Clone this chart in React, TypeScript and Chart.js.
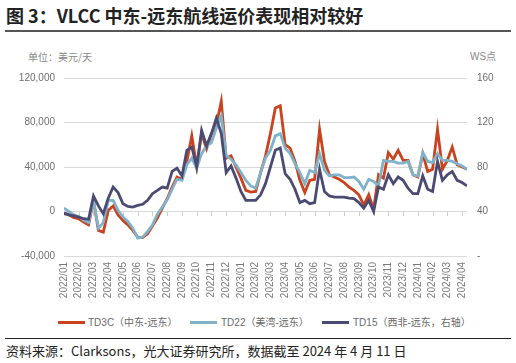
import React, { useEffect, useRef } from "react";
import { Chart, registerables } from "chart.js";

Chart.register(...registerables);

// Sample dates (1st, 11th, 21st of each month)
const dates = [
  "2022-01-01","2022-01-11","2022-01-21","2022-02-01","2022-02-11","2022-02-21",
  "2022-03-01","2022-03-11","2022-03-21","2022-04-01","2022-04-11","2022-04-21",
  "2022-05-01","2022-05-11","2022-05-21","2022-06-01","2022-06-11","2022-06-21",
  "2022-07-01","2022-07-11","2022-07-21","2022-08-01","2022-08-11","2022-08-21",
  "2022-09-01","2022-09-11","2022-09-21","2022-10-01","2022-10-11","2022-10-21",
  "2022-11-01","2022-11-11","2022-11-21","2022-12-01","2022-12-11","2022-12-21",
  "2023-01-01","2023-01-11","2023-01-21","2023-02-01","2023-02-11","2023-02-21",
  "2023-03-01","2023-03-11","2023-03-21","2023-04-01","2023-04-11","2023-04-21",
  "2023-05-01","2023-05-11","2023-05-21","2023-06-01","2023-06-11","2023-06-21",
  "2023-07-01","2023-07-11","2023-07-21","2023-08-01","2023-08-11","2023-08-21",
  "2023-09-01","2023-09-11","2023-09-21","2023-10-01","2023-10-11","2023-10-21",
  "2023-11-01","2023-11-11","2023-11-21","2023-12-01","2023-12-11","2023-12-21",
  "2024-01-01","2024-01-11","2024-01-21","2024-02-01","2024-02-11","2024-02-21",
  "2024-03-01","2024-03-11","2024-03-21","2024-04-01","2024-04-11",
];

// TD3C (中东-远东), USD/day, left axis
const td3c = [
  -1500, -3000, -5500, -6500, -9500, -12000,
  10000, -17000, -18500, 1000, 5000, -3000,
  -8000, -12000, -17000, -23000, -23500, -20000,
  -13000, -5800, 3000, 11500, 22000, 31000,
  29000, 45000, 68000, 40500, 70000, 56400,
  70000, 78000, 99000, 48000, 50000, 40000,
  30000, 19000, 17500, 18000, 35000, 50000,
  70000, 93000, 95000, 60000, 57000, 45000,
  28000, 17000, 28000, 29000, 74000, 45000,
  33000, 31000, 29000, 26000, 22000, 19000,
  15000, 5800, 15000, 2000, 33000, 30000,
  53000, 47000, 55000, 46000, 46000, 33000,
  31000, 52000, 36000, 38000, 74000, 38000,
  46000, 58000, 42000, 40000, 38000,
];

// TD22 (美湾-远东), USD/day, left axis
const td22 = [
  3000, 0, -3000, -4500, -8000, -10000,
  10000, -15000, -10000, 10000, 10000, 1000,
  -5000, -9000, -15000, -24000, -23000, -18000,
  -12000, -2500, 4000, 10500, 20000, 29000,
  28000, 42000, 48000, 39000, 52000, 59000,
  62000, 75000, 86000, 50000, 47000, 42000,
  35000, 28000, 23000, 21000, 35000, 48000,
  55000, 68000, 70000, 57000, 52000, 43000,
  35000, 25000, 37000, 35000, 52000, 37000,
  32000, 33000, 33000, 30500, 30500, 31000,
  27000, 20000, 29000, 27000, 23000, 46000,
  45000, 45000, 43500, 43500, 45000, 33000,
  31800, 53000, 45000, 44000, 52000, 46000,
  46000, 45000, 43000, 41000, 38000,
];

// TD15 (西非-远东), WS points, right axis
const td15 = [
  38.5, 37, 36, 35, 33.5, 33,
  54, 45, 38, 52, 62, 57,
  47, 44.5, 44, 45.5, 46.5, 50,
  56, 59, 62, 61, 76, 79,
  72, 95, 98, 80, 113, 99,
  110, 124, 110, 75, 81, 70,
  58, 50, 50, 50, 55, 65,
  80, 95, 97, 74, 69, 60,
  48, 50, 47, 48, 78, 58,
  54, 53, 53, 53, 52, 51.5,
  48, 43, 50, 40, 62, 60,
  73, 65, 71, 68, 61, 56,
  56, 72, 60, 58, 85, 68,
  73, 76, 68, 66, 63,
];

const monthLabels = [
  "2022/01","2022/02","2022/03","2022/04","2022/05","2022/06","2022/07",
  "2022/08","2022/09","2022/10","2022/11","2022/12","2023/01","2023/02",
  "2023/03","2023/04","2023/05","2023/06","2023/07","2023/08","2023/09",
  "2023/10","2023/11","2023/12","2024/01","2024/02","2024/03","2024/04",
];

const seriesNames = ["TD3C（中东-远东）", "TD22（美湾-远东）", "TD15（西非-远东，右轴）"];
const seriesColors = ["#C9431F", "#80B2CA", "#4B4A73"];

const titleText = "图 3：VLCC 中东-远东航线运价表现相对较好";
const sourceText = "资料来源：Clarksons，光大证券研究所，数据截至 2024 年 4 月 11 日";
const leftUnit = "单位：美元/天";
const rightUnit = "WS点";

function monthIndex(d: string): number {
  const [y, m, dd] = d.split("-").map(Number);
  return (y - 2022) * 12 + (m - 1) + (dd - 1) / 30;
}

const zeroTicks = {
  id: "zeroTicks",
  beforeDatasetsDraw(chart: any) {
    const xs = chart.scales.x;
    const ys = chart.scales.y;
    const y0 = Math.round(ys.getPixelForValue(0));
    const ctx = chart.ctx;
    ctx.save();
    ctx.strokeStyle = "#cfcfcf";
    ctx.lineWidth = 1;
    for (let i = 0; i < monthLabels.length; i++) {
      const px = Math.round(xs.getPixelForValue(i)) + 0.5;
      ctx.beginPath();
      ctx.moveTo(px, y0);
      ctx.lineTo(px, y0 + 4);
      ctx.stroke();
    }
    ctx.restore();
  },
};

const latin = '"Liberation Sans", Arial, "Noto Sans CJK SC", sans-serif';
const cjk = '"Noto Sans CJK SC", "Liberation Sans", sans-serif';

export default function App() {
  const canvasRef = useRef<HTMLCanvasElement | null>(null);

  useEffect(() => {
    const canvas = canvasRef.current;
    if (!canvas) return;
    const mk = (vals: number[]) => dates.map((d, i) => ({ x: monthIndex(d), y: vals[i] }));
    const chart = new Chart(canvas, {
      type: "line",
      data: {
        datasets: [
          { label: seriesNames[0], data: mk(td3c), borderColor: seriesColors[0], backgroundColor: seriesColors[0], borderWidth: 2.8, pointRadius: 0, tension: 0, yAxisID: "y", order: 2 },
          { label: seriesNames[1], data: mk(td22), borderColor: seriesColors[1], backgroundColor: seriesColors[1], borderWidth: 2.8, pointRadius: 0, tension: 0, yAxisID: "y", order: 1 },
          { label: seriesNames[2], data: mk(td15), borderColor: seriesColors[2], backgroundColor: seriesColors[2], borderWidth: 2.8, pointRadius: 0, tension: 0, yAxisID: "y1", order: 0 },
        ],
      },
      options: {
        animation: false,
        responsive: false,
        devicePixelRatio: 1,
        events: [],
        layout: { padding: { top: 10, left: 0, right: 0, bottom: 0 } },
        plugins: { legend: { display: false }, tooltip: { enabled: false }, title: { display: false } },
        scales: {
          x: {
            type: "linear",
            min: 0,
            max: monthIndex("2024-04-11"),
            grid: { display: false, drawTicks: false },
            border: { display: false },
            afterFit: (s: any) => { s.height = 56; },
            ticks: {
              stepSize: 1,
              autoSkip: false,
              includeBounds: false,
              minRotation: 90,
              maxRotation: 90,
              padding: 6,
              color: "#7a7a7a",
              font: { family: latin, size: 10 },
              callback: (v: any) => {
                const n = Number(v);
                return Number.isInteger(n) && monthLabels[n] ? monthLabels[n] : "";
              },
            },
          },
          y: {
            position: "left",
            min: -40000,
            max: 120000,
            grid: { color: "#d9d9d9", lineWidth: 1, drawTicks: false },
            border: { display: false },
            afterFit: (s: any) => { s.width = 64; },
            ticks: {
              stepSize: 40000,
              padding: 9,
              color: "#6e6e6e",
              font: { family: latin, size: 10 },
              callback: (v: any) => Number(v).toLocaleString("en-US"),
            },
          },
          y1: {
            position: "right",
            min: 0,
            max: 160,
            grid: { drawOnChartArea: false, drawTicks: false },
            border: { display: false },
            afterFit: (s: any) => { s.width = 49; },
            ticks: {
              stepSize: 40,
              padding: 10,
              color: "#6e6e6e",
              font: { family: latin, size: 10 },
              callback: (v: any) => (Number(v) === 0 ? "-" : String(v)),
            },
          },
        },
      },
      plugins: [zeroTicks],
    } as any);
    return () => chart.destroy();
  }, []);

  const legendItems = [
    { lineX: 58, textX: 88 },
    { lineX: 190, textX: 221 },
    { lineX: 322, textX: 353 },
  ];

  return (
    <div style={{ position: "absolute", left: 0, top: 0, width: 516, height: 363, background: "#fff", overflow: "hidden" }}>
      <div style={{ position: "absolute", left: 6, top: 5, fontFamily: cjk, fontWeight: 700, fontSize: 18, lineHeight: "20px", color: "#222", whiteSpace: "nowrap" }}>
        {titleText}
      </div>
      <div style={{ position: "absolute", left: 5, top: 30, width: 506, height: 2, background: "#555" }} />
      <div style={{ position: "absolute", left: 28, top: 51, fontFamily: cjk, fontSize: 10, lineHeight: "12px", color: "#8a8a8a", whiteSpace: "nowrap" }}>
        {leftUnit}
      </div>
      <div style={{ position: "absolute", left: 470, top: 51, fontFamily: latin, fontSize: 10, lineHeight: "12px", color: "#8a8a8a", whiteSpace: "nowrap" }}>
        {rightUnit}
      </div>
      <canvas ref={canvasRef} width={516} height={250} style={{ position: "absolute", left: 0, top: 62, width: 516, height: 250 }} />
      {legendItems.map((it, i) => (
        <React.Fragment key={i}>
          <div style={{ position: "absolute", left: it.lineX, top: 321, width: 27, height: 3, background: seriesColors[i] }} />
          <div style={{ position: "absolute", left: it.textX, top: 316, fontFamily: latin, fontSize: 10, lineHeight: "13px", color: "#6a6a6a", whiteSpace: "nowrap" }}>
            {seriesNames[i]}
          </div>
        </React.Fragment>
      ))}
      <div style={{ position: "absolute", left: 5, top: 338, width: 506, height: 1, background: "#222" }} />
      <div style={{ position: "absolute", left: 6, top: 343, fontFamily: cjk, fontSize: 13, lineHeight: "16px", color: "#222", whiteSpace: "nowrap" }}>
        {sourceText}
      </div>
    </div>
  );
}
